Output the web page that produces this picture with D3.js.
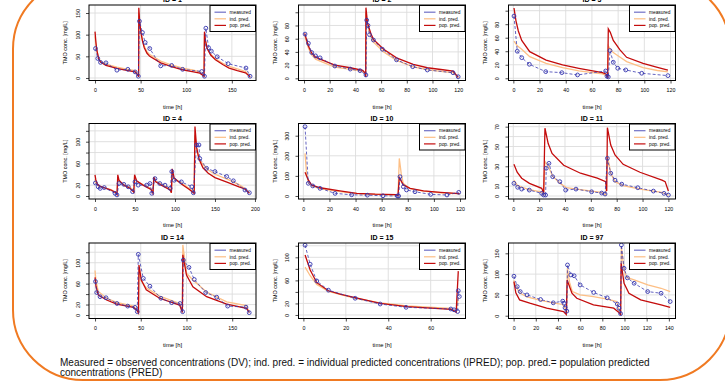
<!DOCTYPE html>
<html>
<head>
<meta charset="utf-8">
<script src="https://cdn.jsdelivr.net/npm/d3@7"></script>
<style>
  html, body { margin: 0; padding: 0; background: #fff; }
  svg { display: block; }
  text { font-family: "Liberation Sans", Arial, Helvetica, sans-serif; }
</style>
</head>
<body>
<svg id="chart" width="725" height="381"></svg>
<script>
// patient ids, one panel each
const ids = ["1", "2", "3", "4", "10", "11", "14", "15", "97"];

// [time h, conc mg/L]
const meas1 = [[0.5,68],[3,45],[6,36],[12,35],[24,18],[36,20],[44,14],[47.5,4],[48.7,131],[52,105],[55,82],[60,68],[72,28],[84,29],[96,20],[117,15],[120,4],[121.5,115],[124.5,70],[127.5,62],[134,49],[146,33],[165.5,23],[170,4]];
const ind1 = [[0,96],[1,76],[2,62],[4,46],[6,39],[12,32],[24,25],[36,20],[44,17],[46.5,10],[47.8,3],[48,150],[49,122],[50.5,102],[52,87],[54,73],[57,61],[60,54],[72,39],[84,30],[96,23],[108,18],[115,14],[119.5,4],[120,100],[121,84],[123,67],[126.8,55],[132,44],[140,34],[147,27],[156,21],[165,15],[170,3]];
const pop1 = [[0,107],[1,82],[2,64],[4,45],[6,37],[12,29],[24,22],[36,17],[44,14],[46.5,8],[47.8,3],[48,162],[49,128],[50.5,104],[52,86],[54,70],[57,57],[60,50],[72,35],[84,26],[96,19],[108,14],[115,11],[119.5,4],[120,107],[121,88],[123,68],[126.8,53],[132,42],[140,31],[147,23],[156,17],[165,12],[170,3]];

const meas2 = [[0.8,67],[3.4,53],[6,39],[9,34],[12.5,31],[24,18.6],[36,14],[43.6,11.6],[48.2,5],[48.8,88],[49.8,80],[51,66],[54,58],[61,44],[72,28],[84.6,17.6],[96,12.6],[116,8.5],[120,2.4]];
const ind2 = [[0.5,65],[2,55],[3.4,46],[6,35],[9,29],[12.5,26],[24,17],[36,13.5],[45.7,10.5],[47.8,6],[48,2],[48.2,100],[49.4,80],[52,63],[54,55],[62,40],[72,27],[85,17.5],[96,13],[108,10],[116,8.5],[120,1.5]];
const pop2 = [[0.5,68],[2,58],[3.4,49],[6,38],[9,32],[12.5,29],[24,20],[36,16],[45.7,12],[47.8,7.6],[48,2],[48.2,107],[49.4,84],[52,68],[54,59],[62,44],[72,31],[85,21],[96,16],[108,13],[116,11],[120,1.5]];

const meas3 = [[0.5,92],[3,40],[6.4,30.5],[12.2,20.7],[24.7,9.8],[37,8.3],[49,4.9],[70.5,10.8],[71.5,3],[72.5,2],[73.8,41],[76.3,23.7],[79.7,14.8],[85.8,12.3],[98,7.4],[118,3.9]];
const ind3 = [[0.5,55],[3,48],[6.4,43],[12.5,32],[25,22],[37.6,15.7],[50,10.8],[68,6.5],[71,4],[72,1],[72.5,48],[74,43],[76.3,38],[79,34.5],[86.5,24.6],[99,15.7],[110,11.5],[118,9.5]];
const pop3 = [[0.5,104],[2,85],[3.8,70],[6.4,56],[12.5,39.4],[25,27],[37.6,19.7],[50,14.8],[68,8.3],[71,6],[72,1],[72.5,73],[74,68],[76.3,56],[81.4,42],[86.5,31],[99,22],[110,16],[118,12]];

const meas4 = [[0.5,24],[4,17],[6.5,14],[11.6,15.5],[25,5],[27.5,2],[30,23],[36,21.5],[41.6,17],[47,8],[50,26],[54,20],[64.6,20],[68.7,23],[71,5],[75,32],[81,23],[87.5,20],[94,14],[96,45],[99,29],[108,26],[121,17],[123,6],[127,94],[130,94],[131,69],[139.5,51],[150,45],[164.6,36],[173,28],[187.5,11],[193,6]];
const ind4 = [[0,31],[1,25],[3,20],[6,17],[12,15],[20,12],[26,7],[27.5,3],[28.5,33],[30,27],[36,21],[44,16],[48.5,8],[49.5,34],[52,27],[60,21],[70,14],[72.5,6],[73.5,32],[76,27],[84,21],[94,13],[95.5,6],[96.5,42],[99,31],[108,24],[118,14],[124,6],[125,112],[127,86],[130,69],[135,58],[141.6,48],[150,40],[166.6,30],[180,21],[187.5,14],[193,6]];
const pop4 = [[0,39],[1,30],[3,22],[6,18],[12,15],[20,11],[26,6],[27.5,3],[28.5,39],[30,29],[36,20],[44,14],[48.5,7],[49.5,39],[52,28],[60,20],[70,12],[72.5,5],[73.5,35],[76,26],[84,19],[94,11],[95.5,6],[96.5,50],[99,33],[108,22],[118,12],[124,5],[125,128],[127,90],[130,68],[135,52],[141.6,42],[150,34],[166.6,24.5],[180,17],[187.5,13],[193,5]];

const meas5 = [[1.3,345],[3.8,63],[7.2,50],[12.8,38],[24.3,13],[37,6],[49,4],[61,1],[72,0],[73,0],[74,96],[76.6,46],[79,30],[85.5,21],[97.5,8],[110,5],[119,18]];
const ind5 = [[1.3,212],[2.5,110],[3.8,66],[6.3,50],[12.8,37],[28,22],[41,12],[55,8],[71,5],[72.5,2],[73.5,187],[75,110],[76.6,62],[81.8,36],[92,24],[105,16],[119.6,11]];
const pop5 = [[1.3,118],[3.8,80],[6.3,55],[12.8,41],[28,25],[41,13],[55,9],[71,7],[72.5,2],[73.5,91],[76.6,55],[81.8,38],[92,25],[105,18],[119.6,12]];

const meas6 = [[0.5,12.8],[3.4,8.8],[6.5,7],[12.4,6],[22,2.7],[23.5,1],[25,1],[25.5,28],[27.6,33],[30.5,19.5],[36,14.5],[40.5,6],[48.5,7],[60.6,4.3],[68.4,3],[71,2],[72.8,38],[75.4,23],[78.7,16],[83.9,12],[96.3,8.4],[108.4,5],[116.6,2.7],[120,1]];
const ind6 = [[0.5,16],[3,11],[6.5,9],[12.5,6.5],[22,4],[23.5,1],[24.5,35],[27,30],[30.5,20],[36,13],[41,8.5],[52,6.5],[68,3.6],[71.5,1],[72.8,41],[75.4,23],[78.7,14.5],[85,10.5],[98,7],[115,3.6],[120,1]];
const pop6 = [[0.5,32],[3,24],[6.5,18],[12.5,12.8],[22,7.8],[23.5,3],[24.5,68.4],[27,53],[30,43],[39,31],[52,23],[65,18],[71.5,14.5],[72.3,5],[72.8,69],[75.4,51.5],[78.7,41.4],[85,32],[98,24],[115,16],[117.5,14.5],[120,5]];

const meas7 = [[0.5,64],[1.8,43],[5.5,35],[12,33],[24,22],[35.7,17],[43.7,14.6],[46.2,6.4],[47.3,116],[52.8,70],[60,55],[72,32],[83.8,23.6],[92.9,22],[95.8,6.3],[96.5,105],[102.7,91],[108.5,68],[121,43],[133,34],[145,17],[165,15],[168.6,4.5]];
const ind7 = [[0,85],[1,65],[3.6,45],[12.7,32],[23.7,24],[42,17],[46.2,9],[47.5,4],[48,80],[50.6,65],[56,52],[70.6,36],[92.5,22],[95.5,5],[96,134],[100,80],[107,67],[122,44],[144,25],[165.6,18],[168.6,5]];
const pop7 = [[0,72],[1,55],[3.6,38],[12.7,28.7],[23.7,21],[42,14.7],[46.2,8],[47.5,4],[48,95.6],[50.6,67],[56,48],[70.6,32],[92.5,19],[95.5,5],[96,115],[100,76.5],[107,54],[122,35],[144,21],[165.6,12.7],[168.6,5]];

const meas8 = [[0.8,121],[3.2,88],[6.3,59],[11.8,43],[24.4,29],[36.2,19],[48.4,13.3],[69.5,10.4],[71,9],[72.7,6],[73,42],[73.5,32]];
const ind8 = [[0.8,83],[3.2,68],[6.3,53],[11.8,41],[24.4,29],[36.2,21],[48.8,15.6],[69.5,11.5],[72,6],[73,30]];
const pop8 = [[0.8,104],[3.2,78],[6.3,56],[11.8,42],[17.3,36],[24.4,30],[36.2,20],[48.8,14.4],[69.5,9.8],[72,5],[73,76]];

const meas9 = [[0.3,95],[3.3,70],[6,58],[12.1,50],[24.3,39],[35.8,31],[44.3,35],[45.5,30],[46.4,19],[48,11],[48.6,122],[51.6,98],[54.6,96],[60,74],[72.2,56],[84.4,43],[93.5,28],[95,18],[96.5,5],[97.2,170],[99.6,114],[102.6,91],[108.7,78],[120.9,58],[133,54],[141.2,34]];
const ind9 = [[0.3,85],[2,70],[5.4,55],[12.1,45],[24.3,37],[35.8,31],[44,27],[46.4,18],[47.8,8],[48.5,114],[50.5,80],[53,58],[60,50],[72,46],[84.4,40],[93,34],[95,12],[96.5,6],[97.2,165],[99.6,110],[102,92],[108.7,86],[121,74],[133,66],[141.2,58]];
const pop9 = [[0.3,82],[2,55],[5.4,38],[14.6,30],[29.8,18],[45,10],[47.5,3],[48.3,86],[52.6,54],[57,42],[72,26],[90.3,18],[95,8],[96.5,3],[97,126],[99.6,78],[104,54],[114.6,38],[133,26],[141.2,20]];

// axis ranges and ticks per panel
const xDomains = [[-6.6,176.5],[-4.3,125.7],[-3.7,123.8],[-7.5,201.3],[-3.7,124.2],[-3.7,125.5],[-6.6,176],[-2.3,76.4],[-4.6,146]];
const yDomains = [[-5.8,168.5],[-3.3,111],[-3.3,108.4],[-5.5,133.5],[-15,360.7],[-3,73.2],[-6.7,137.7],[-6.1,124.8],[-6.7,174.8]];
const xTicks = [
  [0,50,100,150], [0,20,40,60,80,100,120], [0,20,40,60,80,100,120],
  [0,50,100,150,200], [0,20,40,60,80,100,120], [0,20,40,60,80,100,120],
  [0,50,100,150], [0,20,40,60], [0,20,40,60,80,100,120,140]
];
const yTicks = [
  [0,50,100,150], [0,20,40,60,80,100], [0,20,40,60,80,100],
  [0,20,40,60,80,100,120], [0,100,200,300], [0,10,20,30,40,50,60,70],
  [0,20,40,60,80,100,120], [0,20,40,60,80,100,120], [0,50,100,150]
];
// labels R kept (others dropped for overlap)
const yTickLabels = [
  [0,50,100,150], [0,20,40,60,80], [0,20,40,60,80],
  [0,20,60,100], [0,100,200,300], [0,10,30,50,70],
  [0,20,60,100], [0,20,60,100], [0,50,100,150]
];

const legendLabels = ["measured", "ind. pred.", "pop. pred."];
const caption = [
  "Measured = observed concentrations (DV); ind. pred. = individual predicted concentrations (IPRED); pop. pred.= population predicted",
  "concentrations (PRED)"
];

const panels = ids.map((id, i) => ({
  id: id,
  meas: [meas1, meas2, meas3, meas4, meas5, meas6, meas7, meas8, meas9][i],
  ind: [ind1, ind2, ind3, ind4, ind5, ind6, ind7, ind8, ind9][i],
  pop: [pop1, pop2, pop3, pop4, pop5, pop6, pop7, pop8, pop9][i]
}));

// ---- drawing ----
const BLUE = "#3434ae", ORANGE = "#fdbf85", RED = "#c40c0c";
const colLeft = [89, 298.5, 508.5];
const rowTop = [5, 123.5, 243];
const boxW = 167, boxH = 75.5;

const svg = d3.select("#chart");

// rounded orange frame, partly off the page
svg.append("rect")
  .attr("x", 13).attr("y", -21)
  .attr("width", 717).attr("height", 401)
  .attr("rx", 70).attr("ry", 70)
  .attr("fill", "none")
  .attr("stroke", "#f07a22")
  .attr("stroke-width", 2);

panels.forEach((p, i) => {
  const g = svg.append("g")
    .attr("transform", `translate(${colLeft[i % 3]}, ${rowTop[Math.floor(i / 3)]})`);

  const x = d3.scaleLinear().domain(xDomains[i]).range([0, boxW]);
  const y = d3.scaleLinear().domain(yDomains[i]).range([boxH, 0]);

  // grid
  g.append("g").selectAll("line").data(xTicks[i]).join("line")
    .attr("x1", d => x(d)).attr("x2", d => x(d))
    .attr("y1", 0).attr("y2", boxH)
    .attr("stroke", "#dcdcdc").attr("stroke-width", 0.9);
  g.append("g").selectAll("line").data(yTicks[i]).join("line")
    .attr("y1", d => y(d)).attr("y2", d => y(d))
    .attr("x1", 0).attr("x2", boxW)
    .attr("stroke", "#dcdcdc").attr("stroke-width", 0.9);

  const clipId = "clip" + i;
  g.append("clipPath").attr("id", clipId)
    .append("rect").attr("width", boxW).attr("height", boxH);
  const plot = g.append("g").attr("clip-path", `url(#${clipId})`);

  const line = d3.line().x(d => x(d[0])).y(d => y(d[1]));

  plot.append("path").attr("d", line(p.ind))
    .attr("fill", "none").attr("stroke", ORANGE).attr("stroke-width", 1.3);
  plot.append("path").attr("d", line(p.pop))
    .attr("fill", "none").attr("stroke", RED).attr("stroke-width", 1.3);
  plot.append("path").attr("d", line(p.meas))
    .attr("fill", "none").attr("stroke", BLUE).attr("stroke-width", 0.9)
    .attr("stroke-dasharray", "3,2").attr("opacity", 0.85);
  plot.append("g").selectAll("circle").data(p.meas).join("circle")
    .attr("cx", d => x(d[0])).attr("cy", d => y(d[1]))
    .attr("r", 1.9)
    .attr("fill", "none").attr("stroke", BLUE).attr("stroke-width", 0.9);

  // box
  g.append("rect").attr("width", boxW).attr("height", boxH)
    .attr("fill", "none").attr("stroke", "#000").attr("stroke-width", 1);

  // x axis
  const xa = g.append("g").attr("transform", `translate(0, ${boxH})`)
    .call(d3.axisBottom(x).tickValues(xTicks[i]).tickSize(3).tickPadding(5).tickFormat(d3.format("d")));
  xa.attr("font-size", null).attr("font-family", null);
  xa.select(".domain").remove();
  xa.selectAll("line").attr("stroke", "#000").attr("stroke-width", 0.7);
  xa.selectAll("text").style("font-size", "5.3px").attr("fill", "#000");

  // y axis, labels parallel to the axis
  const keep = yTickLabels[i];
  const ya = g.append("g")
    .call(d3.axisLeft(y).tickValues(yTicks[i]).tickSize(3)
      .tickFormat(d => keep.includes(d) ? d3.format("d")(d) : ""));
  ya.attr("font-size", null).attr("font-family", null);
  ya.select(".domain").remove();
  ya.selectAll("line").attr("stroke", "#000").attr("stroke-width", 0.7);
  ya.selectAll("text")
    .attr("x", null).attr("dy", null)
    .attr("transform", "translate(-9.3, 0) rotate(-90)")
    .attr("text-anchor", "middle")
    .style("font-size", "5.3px").attr("fill", "#000");

  // titles
  g.append("text").text("ID = " + p.id)
    .attr("x", boxW / 2).attr("y", -3)
    .attr("text-anchor", "middle")
    .style("font-size", "7px").style("font-weight", "bold");
  g.append("text").text("time [h]")
    .attr("x", boxW / 2).attr("y", boxH + 28)
    .attr("text-anchor", "middle")
    .style("font-size", "5.8px");
  g.append("text").text("TMO conc. [mg/L]")
    .attr("transform", `translate(-22, ${boxH / 2}) rotate(-90)`)
    .attr("text-anchor", "middle")
    .style("font-size", "5.4px");

  // legend
  const lg = g.append("g").attr("transform", `translate(${boxW - 46}, 0.5)`);
  lg.append("rect").attr("width", 45.5).attr("height", 26)
    .attr("fill", "#fff").attr("stroke", "#000").attr("stroke-width", 1);
  const colors = [BLUE, ORANGE, RED];
  legendLabels.forEach((lab, k) => {
    const ly = 6.7 + k * 6.6;
    lg.append("line").attr("x1", 4.5).attr("x2", 16).attr("y1", ly).attr("y2", ly)
      .attr("stroke", colors[k]).attr("stroke-width", 1.2).attr("opacity", k === 0 ? 0.7 : 1);
    lg.append("text").text(lab).attr("x", 19.5).attr("y", ly + 1.7)
      .style("font-size", "4.8px");
  });
});

// caption
svg.append("g").selectAll("text").data(caption).join("text")
  .attr("x", 60).attr("y", (d, k) => 365.5 + k * 10.3)
  .style("font-size", "10px").attr("fill", "#111")
  .text(d => d);
</script>
</body>
</html>
